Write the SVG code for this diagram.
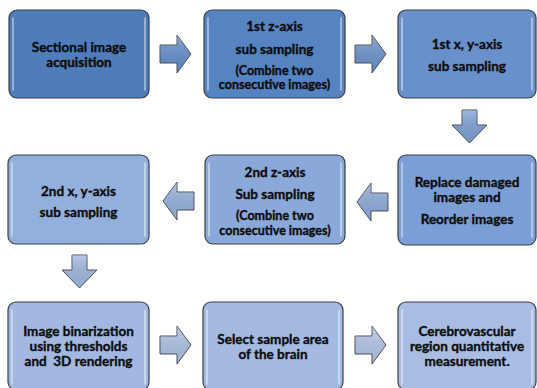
<svg xmlns="http://www.w3.org/2000/svg" width="537" height="388" viewBox="0 0 537 388">
<style>
.box{stroke:#3a3f48;stroke-width:1.2}
.hl{fill:none;stroke:#ffffff;stroke-opacity:0.55;stroke-width:1.5;stroke-linecap:round}
.t{font-family:Lato,"Open Sans","Liberation Sans",sans-serif;font-weight:bold;font-size:13.5px;fill:#0d0d0d;stroke:#0d0d0d;stroke-width:0.35;text-anchor:middle;white-space:pre}
.s{font-size:12.5px}
.arr{stroke:#4a4f58;stroke-width:1}
</style>
<defs>
<linearGradient id="ga" x1="0" y1="0" x2="0" y2="1">
<stop offset="0" stop-color="#ffffff" stop-opacity="0.25"/>
<stop offset="1" stop-color="#000000" stop-opacity="0.05"/>
</linearGradient>
<path id="ra" d="M0,10 H17 V0 L31,19 L17,38 V28 H0 Z"/>
<path id="da" d="M10,0 H25 V15 H35 L17.5,33 L0,15 H10 Z"/>
</defs>
<rect width="537" height="388" fill="#ffffff"/>
<g id="n1">
<rect class="box" x="9" y="10" width="140" height="88" rx="8" fill="#4f7dbb"/>
<path class="hl" d="M13,18 V90 M145,18 V90"/>
<text class="t" x="79" y="52">Sectional image</text>
<text class="t" x="79" y="67">acquisition</text>
</g>
<g id="n2">
<rect class="box" x="204" y="10" width="141" height="88" rx="8" fill="#5684c2"/>
<path class="hl" d="M208,18 V90 M341,18 V90"/>
<text class="t" x="274.5" y="31">1st z-axis</text>
<text class="t" x="274.5" y="54">sub sampling</text>
<text class="t s" x="274.5" y="75">(Combine two</text>
<text class="t s" x="274.5" y="89">consecutive images)</text>
</g>
<g id="n3">
<rect class="box" x="398" y="10" width="138" height="88" rx="8" fill="#6a90cc"/>
<path class="hl" d="M402,18 V90 M532,18 V90"/>
<text class="t" x="467" y="49">1st x, y-axis</text>
<text class="t" x="467" y="71">sub sampling</text>
</g>
<g id="n4">
<rect class="box" x="398" y="155" width="138" height="90" rx="8" fill="#7b9ed4"/>
<path class="hl" d="M402,163 V237 M532,163 V237"/>
<text class="t" x="467" y="187">Replace damaged</text>
<text class="t" x="467" y="202">images and</text>
<text class="t" x="467" y="224">Reorder images</text>
</g>
<g id="n5">
<rect class="box" x="205" y="155" width="140" height="89" rx="8" fill="#8aa8d9"/>
<path class="hl" d="M209,163 V236 M341,163 V236"/>
<text class="t" x="275" y="177">2nd z-axis</text>
<text class="t" x="275" y="199">Sub sampling</text>
<text class="t s" x="275" y="220">(Combine two</text>
<text class="t s" x="275" y="235">consecutive images)</text>
</g>
<g id="n6">
<rect class="box" x="8" y="155" width="141" height="89" rx="8" fill="#93b0dc"/>
<path class="hl" d="M12,163 V236 M145,163 V236"/>
<text class="t" x="78.5" y="196">2nd x, y-axis</text>
<text class="t" x="78.5" y="217">sub sampling</text>
</g>
<g id="n7">
<rect class="box" x="8" y="302" width="141" height="88" rx="8" fill="#a2b8e0"/>
<path class="hl" d="M12,310 V384 M145,310 V384"/>
<text class="t" x="78.5" y="336">Image binarization</text>
<text class="t" x="78.5" y="351">using thresholds</text>
<text class="t" x="78.5" y="366">and  3D rendering</text>
</g>
<g id="n8">
<rect class="box" x="203" y="302" width="140" height="88" rx="8" fill="#a5bae1"/>
<path class="hl" d="M207,310 V384 M339,310 V384"/>
<text class="t" x="273" y="344">Select sample area</text>
<text class="t" x="273" y="359">of the brain</text>
</g>
<g id="n9">
<rect class="box" x="398" y="302" width="138" height="88" rx="8" fill="#a9bde2"/>
<path class="hl" d="M402,310 V384 M532,310 V384"/>
<text class="t" x="467" y="336">Cerebrovascular</text>
<text class="t" x="467" y="351">region quantitative</text>
<text class="t" x="467" y="366">measurement.</text>
</g>
<g id="connectors">
<use href="#ra" class="arr" x="160" y="35" fill="#6690ca"/>
<use href="#ra" x="160" y="35" fill="url(#ga)"/>
<use href="#ra" class="arr" x="355" y="35" fill="#6e95cd"/>
<use href="#ra" x="355" y="35" fill="url(#ga)"/>
<use href="#da" class="arr" x="452" y="110" fill="#7ea1d6"/>
<use href="#da" x="452" y="110" fill="url(#ga)"/>
<g transform="translate(388,183) scale(-1,1)">
<use href="#ra" class="arr" fill="#8eacda"/>
<use href="#ra" fill="url(#ga)"/>
</g>
<g transform="translate(194,182) scale(-1,1)">
<use href="#ra" class="arr" fill="#98b3de"/>
<use href="#ra" fill="url(#ga)"/>
</g>
<use href="#da" class="arr" x="62" y="255" fill="#a0b8e0"/>
<use href="#da" x="62" y="255" fill="url(#ga)"/>
<use href="#ra" class="arr" x="160" y="326" fill="#afc3e6"/>
<use href="#ra" x="160" y="326" fill="url(#ga)"/>
<use href="#ra" class="arr" x="355" y="326" fill="#b3c6e7"/>
<use href="#ra" x="355" y="326" fill="url(#ga)"/>
</g>
</svg>
